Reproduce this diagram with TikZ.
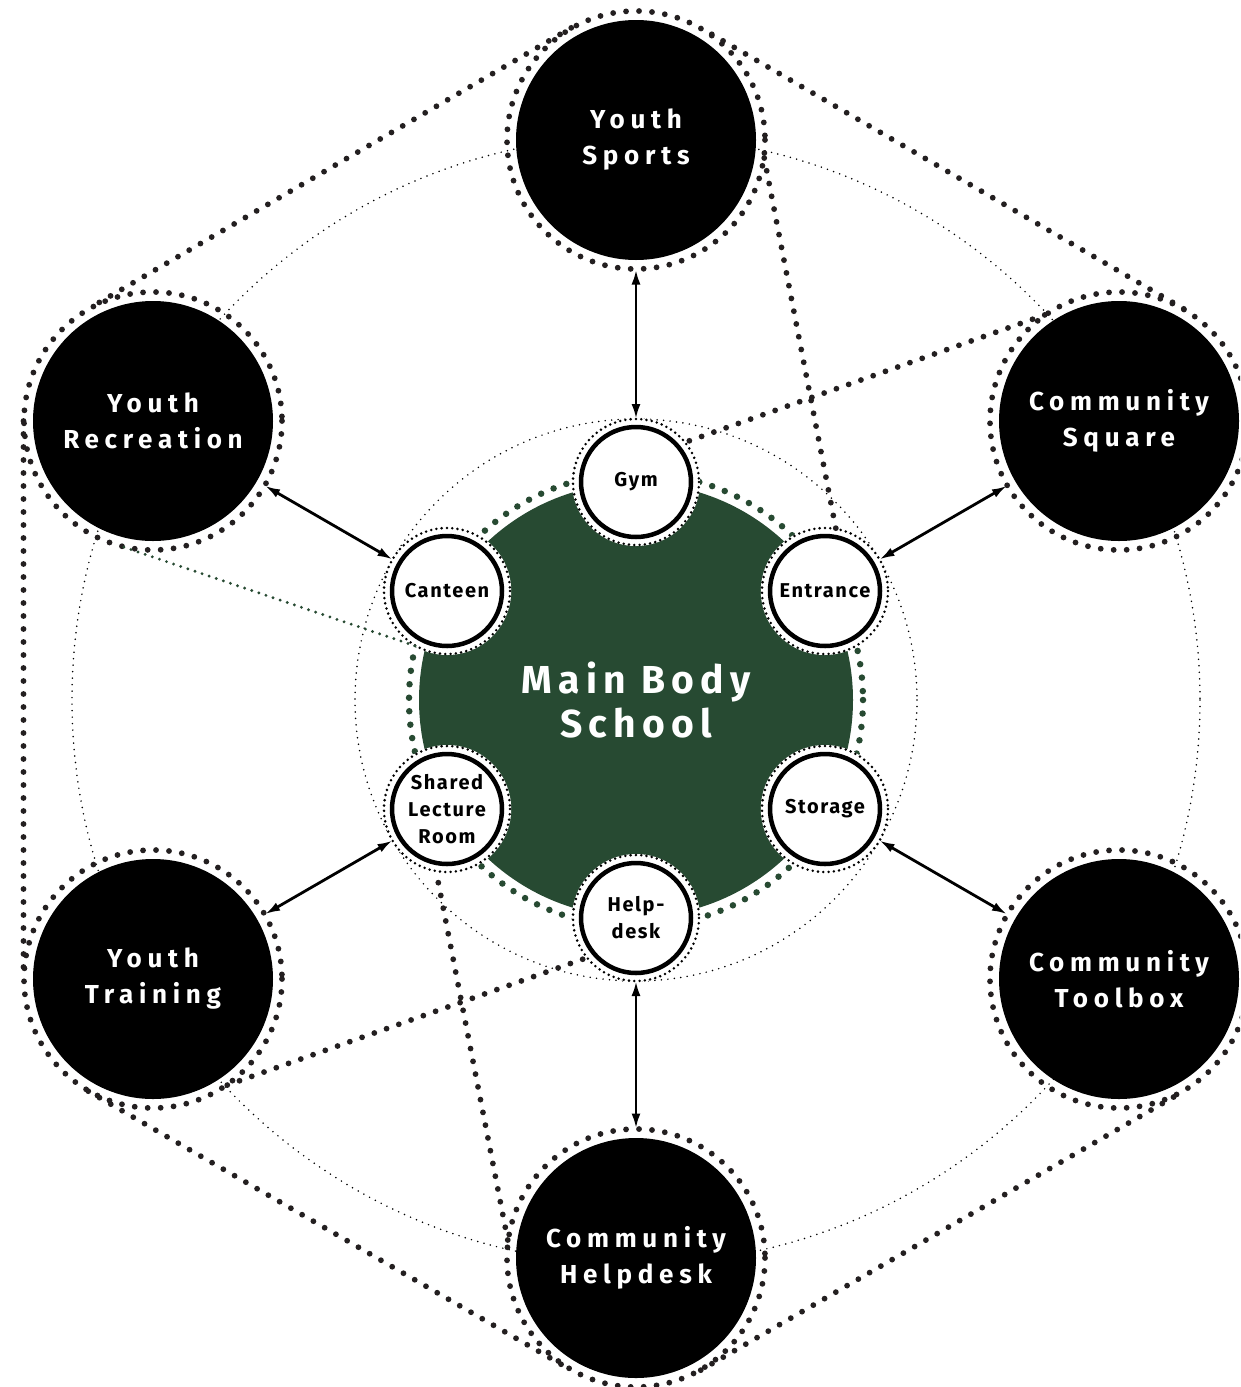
\documentclass[tikz,border=0pt]{standalone}
\usepackage{fontspec}
\setmainfont{Fira Sans}
\usepackage{tikz}
\usetikzlibrary{arrows.meta}
\definecolor{schoolgreen}{RGB}{39,74,50}
\definecolor{dotgray}{RGB}{35,31,32}
\tikzset{
  bignode/.style={circle, fill=black, text=white, inner sep=0pt, minimum size=240pt, outer sep=9.5pt,
    align=center, font=\fontsize{26}{36}\selectfont\bfseries\addfontfeatures{LetterSpace=22}},
  roomnode/.style={circle, fill=white, draw=black, line width=4.5pt, inner sep=0pt, minimum size=110pt, outer sep=8pt,
    align=center, font=\fontsize{20}{27}\selectfont\bfseries\addfontfeatures{LetterSpace=8}},
  mainnode/.style={circle, fill=schoolgreen, text=white, inner sep=0pt, minimum size=434pt,
    align=center, font=\fontsize{39}{44}\selectfont\bfseries\addfontfeatures{LetterSpace=16}},
  bigdots/.style={draw=dotgray, line width=5.8pt, line cap=round, dash pattern=on 0pt off 13pt},
  ringdots/.style={draw=black, line width=2.8pt, line cap=round, dash pattern=on 0pt off 5.3pt},
  thindots/.style={draw=black, line width=1.7pt, line cap=round, dash pattern=on 0pt off 6.5pt},
  greendots/.style={draw=schoolgreen, line width=6.5pt, line cap=round, dash pattern=on 0pt off 13.5pt},
  greenline/.style={draw=schoolgreen, line width=3.2pt, line cap=round, dash pattern=on 0pt off 7.5pt},
  link/.style={{Latex[length=15pt,width=9pt]}-{Latex[length=15pt,width=9pt]}, line width=2.8pt}
}

\begin{document}
\begin{tikzpicture}[x=1pt, y=-1pt]
  \useasboundingbox (0, 0) rectangle (1240, 1387);
  \clip (0, 0) rectangle (1240, 1387);

  \coordinate (hub) at (636, 700);
  \draw[thindots] (hub) circle[radius=564];
  \draw[thindots] (hub) circle[radius=281];

  \node[mainnode] (school) at (hub) {Main Body\\School};
  \draw[greendots] (hub) circle[radius=227];

  \node[bignode] (ys) at (636, 140) {Youth\\Sports};
  \node[bignode] (yr) at (153, 421) {Youth\\Recreation};
  \node[bignode] (cs) at (1119, 421) {Community\\Square};
  \node[bignode] (yt) at (153, 979) {Youth\\Training};
  \node[bignode] (ct) at (1119, 979) {Community\\Toolbox};
  \node[bignode] (ch) at (636, 1258) {Community\\Helpdesk};

  \foreach \n in {ys, yr, cs, yt, ct, ch}
    \draw[bigdots] (\n.center) circle[radius=129];

  % hull round the outer ring
  \draw[bigdots] (ys.120) -- (yr.120);
  \draw[bigdots] (yr.180) -- (yt.180);
  \draw[bigdots] (yt.240) -- (ch.240);
  \draw[bigdots] (ch.300) -- (ct.300);
  \draw[bigdots] (ct.0) -- (cs.0);
  \draw[bigdots] (cs.60) -- (ys.60);

  \foreach \a in {90, 150, 30, 210, 330, 270}
    \fill[white] (hub) ++(\a:218) circle[radius=64];

  \node[roomnode] (gym) at (636, 482) {Gym};
  \node[roomnode] (canteen) at (447, 591) {Canteen};
  \node[roomnode] (entrance) at (825, 591) {Entrance};
  \node[roomnode] (lecture) at (447, 809) {Shared\\Lecture\\Room};
  \node[roomnode] (storage) at (825, 809) {Storage};
  \node[roomnode] (helpdesk) at (636, 918) {Help-\\desk};

  \foreach \n in {gym, canteen, entrance, lecture, storage, helpdesk}
    \draw[ringdots] (\n.center) circle[radius=63];

  % cross links
  \draw[bigdots] (ys.-8) -- (entrance.80);
  \draw[bigdots] (cs.125) -- (gym.39);
  \draw[bigdots] (ch.172) -- (lecture.260);
  \draw[bigdots] (yt.-55) -- (helpdesk.219);
  \draw[greenline] (yr.257) -- (canteen.242);

  \draw[link] (ys) -- (gym);
  \draw[link] (yr) -- (canteen);
  \draw[link] (cs) -- (entrance);
  \draw[link] (yt) -- (lecture);
  \draw[link] (ct) -- (storage);
  \draw[link] (ch) -- (helpdesk);
\end{tikzpicture}
\end{document}
